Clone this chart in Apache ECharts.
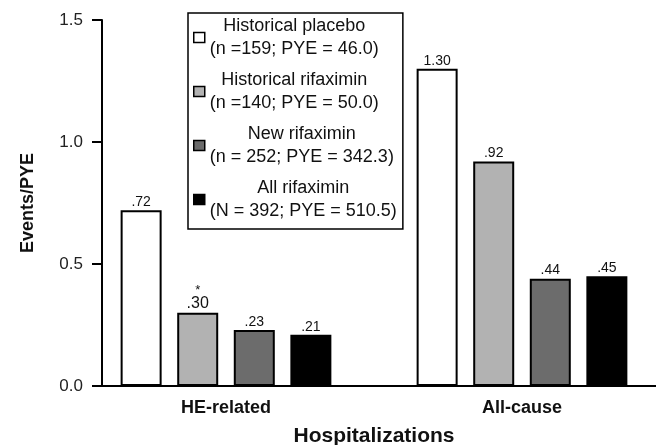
<!DOCTYPE html>
<html>
<head>
<meta charset="utf-8">
<script src="https://cdn.jsdelivr.net/npm/echarts@6/dist/echarts.min.js"></script>
<style>
html, body { margin: 0; padding: 0; background: #fff; }
#chart { width: 656px; height: 445px; }
</style>
</head>
<body>
<div id="chart"></div>
<script>
// categories on the x axis
var categories = ["HE-related", "All-cause"];

// one series per treatment group
var seriesNames = ["Historical placebo", "Historical rifaximin", "New rifaximin", "All rifaximin"];
var seriesSubLabels = ["(n =159; PYE = 46.0)", "(n =140; PYE = 50.0)", "(n = 252; PYE = 342.3)", "(N = 392; PYE = 510.5)"];
var seriesColors = ["#ffffff", "#b2b2b2", "#6c6c6c", "#000000"];

var placeboValues = [0.72, 1.30];
var histRifaximinValues = [0.30, 0.92];
var newRifaximinValues = [0.23, 0.44];
var allRifaximinValues = [0.21, 0.45];

// value that carries the significance mark
var starredSeries = 1;
var starredIndex = 0;

var yMin = 0, yMax = 1.5, yStep = 0.5;

var font = "Liberation Sans, Arial, Helvetica, sans-serif";

function fmtValue(v) {
  var s = v.toFixed(2);
  return v < 1 ? s.slice(1) : s;
}

var allValues = [placeboValues, histRifaximinValues, newRifaximinValues, allRifaximinValues];

var series = [];
seriesNames.forEach(function (name, i) {
  series.push({
    name: name,
    type: "bar",
    xAxisIndex: 0,
    yAxisIndex: 0,
    barWidth: 41,
    barGap: "38%",
    data: allValues[i],
    itemStyle: {
      color: seriesColors[i],
      borderColor: "#000",
      borderWidth: 2
    },
    label: {
      show: true,
      position: "top",
      distance: 1,
      color: "#111",
      fontFamily: font,
      fontSize: 14,
      formatter: function (p) {
        if (i === starredSeries && p.dataIndex === starredIndex) {
          return "{s|*}\n{b|" + fmtValue(p.value) + "}";
        }
        return fmtValue(p.value);
      },
      rich: {
        s: { fontSize: 13, lineHeight: 9, color: "#111", fontFamily: font, align: "center" },
        b: { fontSize: 16, lineHeight: 17, color: "#111", fontFamily: font, align: "center" }
      }
    }
  });
});

var legendText = {};
seriesNames.forEach(function (n, i) {
  legendText[n] = "{c|" + n + "}\n{c|" + seriesSubLabels[i] + "}";
});

var option = {
  backgroundColor: "#fff",
  animation: false,
  // grid 0 places the bars, grid 1 carries the visible frame (y axis and baseline)
  grid: [
    { left: 78, width: 592, top: 20, bottom: 59, outerBoundsMode: "none" },
    { left: 102, right: 0, top: 20, bottom: 59, outerBoundsMode: "none" }
  ],
  legend: {
    orient: "vertical",
    left: 188,
    top: 13,
    padding: [4, 6, 9, 5],
    itemGap: 13,
    itemWidth: 11,
    itemHeight: 10,
    icon: "rect",
    borderColor: "#000",
    borderWidth: 1.5,
    backgroundColor: "#fff",
    itemStyle: { borderColor: "#000", borderWidth: 1.5 },
    data: seriesNames,
    formatter: function (name) { return legendText[name]; },
    textStyle: {
      color: "#111",
      fontFamily: font,
      fontSize: 18,
      rich: {
        c: { align: "center", fontSize: 18, lineHeight: 23, color: "#111", fontFamily: font }
      }
    }
  },
  xAxis: [
    {
      type: "category",
      gridIndex: 0,
      data: categories,
      name: "Hospitalizations",
      nameLocation: "middle",
      nameGap: 40,
      nameTextStyle: { fontFamily: font, fontSize: 21, fontWeight: "bold", color: "#111" },
      axisLine: { show: false },
      axisTick: { show: false },
      axisLabel: { margin: 13, fontFamily: font, fontSize: 18, fontWeight: "bold", color: "#111" }
    },
    {
      type: "category",
      gridIndex: 1,
      data: categories,
      axisLine: { show: true, lineStyle: { color: "#000", width: 2 } },
      axisTick: { show: false },
      axisLabel: { show: false }
    }
  ],
  yAxis: [
    {
      type: "value",
      gridIndex: 0,
      min: yMin,
      max: yMax,
      interval: yStep,
      show: false
    },
    {
      type: "value",
      gridIndex: 1,
      min: yMin,
      max: yMax,
      interval: yStep,
      name: "Events/PYE",
      nameLocation: "middle",
      nameGap: 65,
      nameTextStyle: { fontFamily: font, fontSize: 18, fontWeight: "bold", color: "#111" },
      axisLine: { show: true, lineStyle: { color: "#000", width: 2 } },
      axisTick: { show: true, length: 10, lineStyle: { color: "#000", width: 2 } },
      splitLine: { show: false },
      axisLabel: {
        margin: 19,
        fontFamily: font,
        fontSize: 17,
        color: "#222",
        formatter: function (v) { return v.toFixed(1); }
      }
    }
  ],
  series: series
};

var chart = echarts.init(document.getElementById("chart"));
chart.setOption(option);
</script>
</body>
</html>
